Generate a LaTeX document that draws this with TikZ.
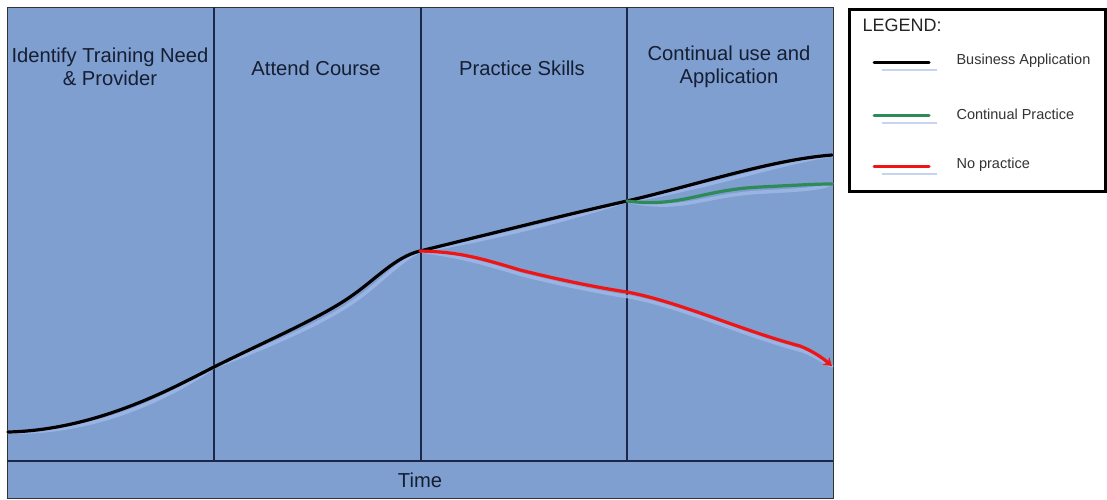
\documentclass[tikz,border=0pt]{standalone}
\usepackage{fontspec}
\setmainfont{Liberation Sans}
\usetikzlibrary{arrows.meta}
\definecolor{panel}{RGB}{126,159,207}
\definecolor{navy}{RGB}{28,40,72}
\definecolor{txt}{RGB}{22,30,50}
\definecolor{shadowc}{RGB}{160,184,232}
\definecolor{greenc}{RGB}{46,139,87}
\definecolor{redc}{RGB}{240,20,20}
\tikzset{
  phase/.style={text=txt, font=\fontsize{20.2}{23}\selectfont, align=center},
  divider/.style={draw=navy, line width=1.3pt},
  shadowline/.style={draw=shadowc, line width=3.5pt, opacity=0.8, line cap=round},
  bizline/.style={draw=black, line width=3.2pt, line cap=round},
  pracline/.style={draw=greenc, line width=3.2pt, line cap=round},
  noline/.style={draw=redc, line width=3.2pt, line cap=round},
  legtext/.style={anchor=west, font=\fontsize{14.5}{17}\selectfont, text=black!80},
  bizpath/.style={insert path={(b0) .. controls (100,430) and (180,384) .. (b1)
    .. controls (260,344) and (320,318) .. (350,297)
    .. controls (375,280) and (395,257) .. (split1)
    .. controls (490,234) and (560,216) .. (split2)
    .. controls (700,184) and (770,160) .. (bend)}},
  pracpath/.style={insert path={(split2) .. controls (680,208) and (700,190) .. (760,187)
    .. controls (800,185) and (815,184) .. (gend)}},
  nopath/.style={insert path={(split1) .. controls (460,252) and (480,258) .. (520,270)
    .. controls (560,280) and (600,288) .. (627,292)
    .. controls (680,302) and (740,330) .. (800,346)
    .. controls (815,352) and (825,360) .. (rend)}},
}
\begin{document}
\begin{tikzpicture}[x=1pt,y=-1pt]
\useasboundingbox (0,0) rectangle (1107,499);
% panel
\fill[white] (0,0) rectangle (1107,499);
\draw[fill=panel, draw=black!80, line width=1pt] (7,7) rectangle (833,498);
\draw[divider] (214,7) -- (214,461);
\draw[divider] (421,7) -- (421,461);
\draw[divider] (627,7) -- (627,461);
\draw[draw=navy, line width=1.8pt] (7,461) -- (833,461);
% labels
\node[phase] (p1) at (110,67) {Identify Training Need\\\& Provider};
\node[phase] (p2) at (316,68) {Attend Course};
\node[phase] (p3) at (522,68) {Practice Skills};
\node[phase] (p4) at (729,67) {Continual use and\\Application};
\node[phase] (time) at (420,480) {Time};
% curve points
\coordinate (b0) at (8,432);
\coordinate (b1) at (214,367);
\coordinate (split1) at (420,251);
\coordinate (split2) at (627,201);
\coordinate (bend) at (832,155);
\coordinate (gend) at (832,184);
\coordinate (rend) at (832,366);
% shadows
\begin{scope}[shift={(3,5)}]
\draw[shadowline, bizpath];
\draw[shadowline, pracpath];
\draw[shadowline, nopath];
\end{scope}
% curves
\draw[bizline, bizpath];
\draw[pracline, pracpath];
\draw[noline, -{Stealth[length=8pt,width=10pt]}, nopath];
% legend
\draw[draw=black, line width=3pt, fill=white] (849,9) rectangle (1105,191);
\node[anchor=west, font=\fontsize{18}{20}\selectfont, text=black!85] (leg) at (859,25) {LEGEND:};
\coordinate (l1a) at (874,62); \coordinate (l1b) at (929,62);
\coordinate (l2a) at (874,115); \coordinate (l2b) at (929,115);
\coordinate (l3a) at (874,166); \coordinate (l3b) at (929,166);
\draw[draw=shadowc, line width=2.5pt, opacity=0.6] ([shift={(8,8)}]l1a) -- ([shift={(8,8)}]l1b);
\draw[draw=shadowc, line width=2.5pt, opacity=0.6] ([shift={(8,8)}]l2a) -- ([shift={(8,8)}]l2b);
\draw[draw=shadowc, line width=2.5pt, opacity=0.6] ([shift={(8,8)}]l3a) -- ([shift={(8,8)}]l3b);
\draw[bizline, line width=3pt] (l1a) -- (l1b);
\draw[pracline, line width=3pt] (l2a) -- (l2b);
\draw[noline, line width=3pt] (l3a) -- (l3b);
\node[legtext] (t1) at (953,61) {Business Application};
\node[legtext] (t2) at (953,114) {Continual Practice};
\node[legtext] (t3) at (953,165) {No practice};
\end{tikzpicture}
\end{document}
